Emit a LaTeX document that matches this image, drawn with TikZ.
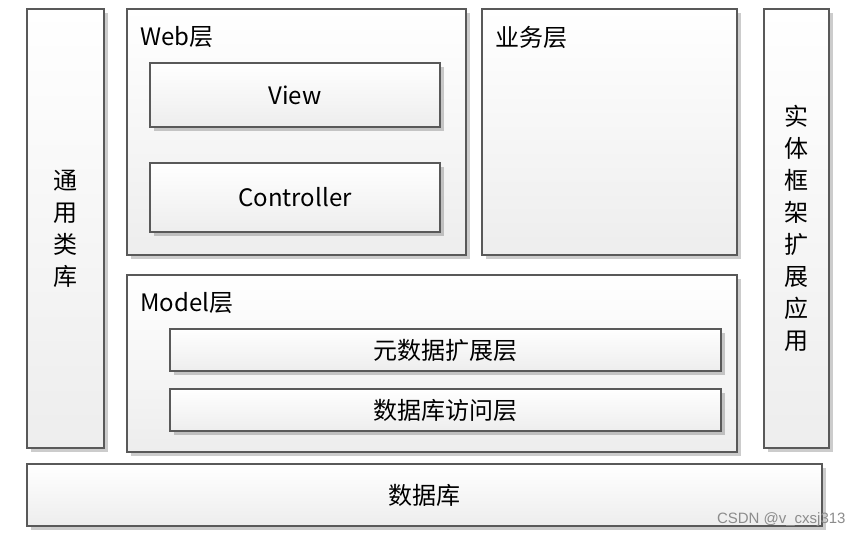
\documentclass[tikz,border=0pt]{standalone}
\usepackage{fontspec}
\setmainfont{Noto Sans CJK SC}
\newfontfamily\markfont{Liberation Sans}
\usetikzlibrary{shadows}

\tikzset{
    box/.style={draw=black!65,line width=.75pt,rectangle,inner sep=0pt,
        top color=white,bottom color=black!7,
        drop shadow={shadow xshift=2pt,shadow yshift=-2pt,opacity=.2,fill=black}},
    title/.style={anchor=west,inner sep=0pt,font=\fontsize{12}{14}\selectfont},
    vtext/.style={align=center,font=\fontsize{12}{16}\selectfont}
}

\begin{document}
\begin{tikzpicture}[x=.5pt,y=-.5pt]
        \useasboundingbox (0,0) rectangle (861,537);

        % side columns
        \node[box,vtext,minimum width=38.5pt,minimum height=219.5pt] (Lib) at (65.5,228.5) {通\\用\\类\\库};
        \node[box,vtext,minimum width=32.5pt,minimum height=219.5pt] (EF) at (796.5,228.5) {实\\体\\框\\架\\扩\\展\\应\\用};

        % web layer
        \node[box,minimum width=169.5pt,minimum height=123pt] (Web) at (296.5,132) {};
        \node[title] (Web_t) at (140,37) {Web层};
        \node[box,font=\fontsize{12}{14}\selectfont,minimum width=145pt,minimum height=32pt] (View) at (295,95) {View};
        \node[box,font=\fontsize{12}{14}\selectfont,minimum width=145pt,minimum height=34.5pt] (Ctrl) at (295,197.5) {Controller};

        % business layer
        \node[box,minimum width=127.5pt,minimum height=123pt] (Biz) at (609.5,132) {};
        \node[title] (Biz_t) at (495,37) {业务层};

        % model layer
        \node[box,minimum width=305pt,minimum height=88.5pt] (Model) at (432,363.5) {};
        \node[title] (Model_t) at (140,303) {Model层};
        \node[box,font=\fontsize{12}{14}\selectfont,minimum width=275.5pt,minimum height=21pt] (Meta) at (445.5,350) {元数据扩展层};
        \node[box,font=\fontsize{12}{14}\selectfont,minimum width=275.5pt,minimum height=21pt] (DAL) at (445.5,410) {数据库访问层};

        % database
        \node[box,font=\fontsize{12}{14}\selectfont,minimum width=397.5pt,minimum height=31pt] (DB) at (424.5,495) {数据库};

        \node[anchor=east,inner sep=0pt,text=black!45,font=\markfont\fontsize{7.5}{9}\selectfont] (Mark) at (846,520) {CSDN @v\_cxsj313};

    \end{tikzpicture}
\end{document}
